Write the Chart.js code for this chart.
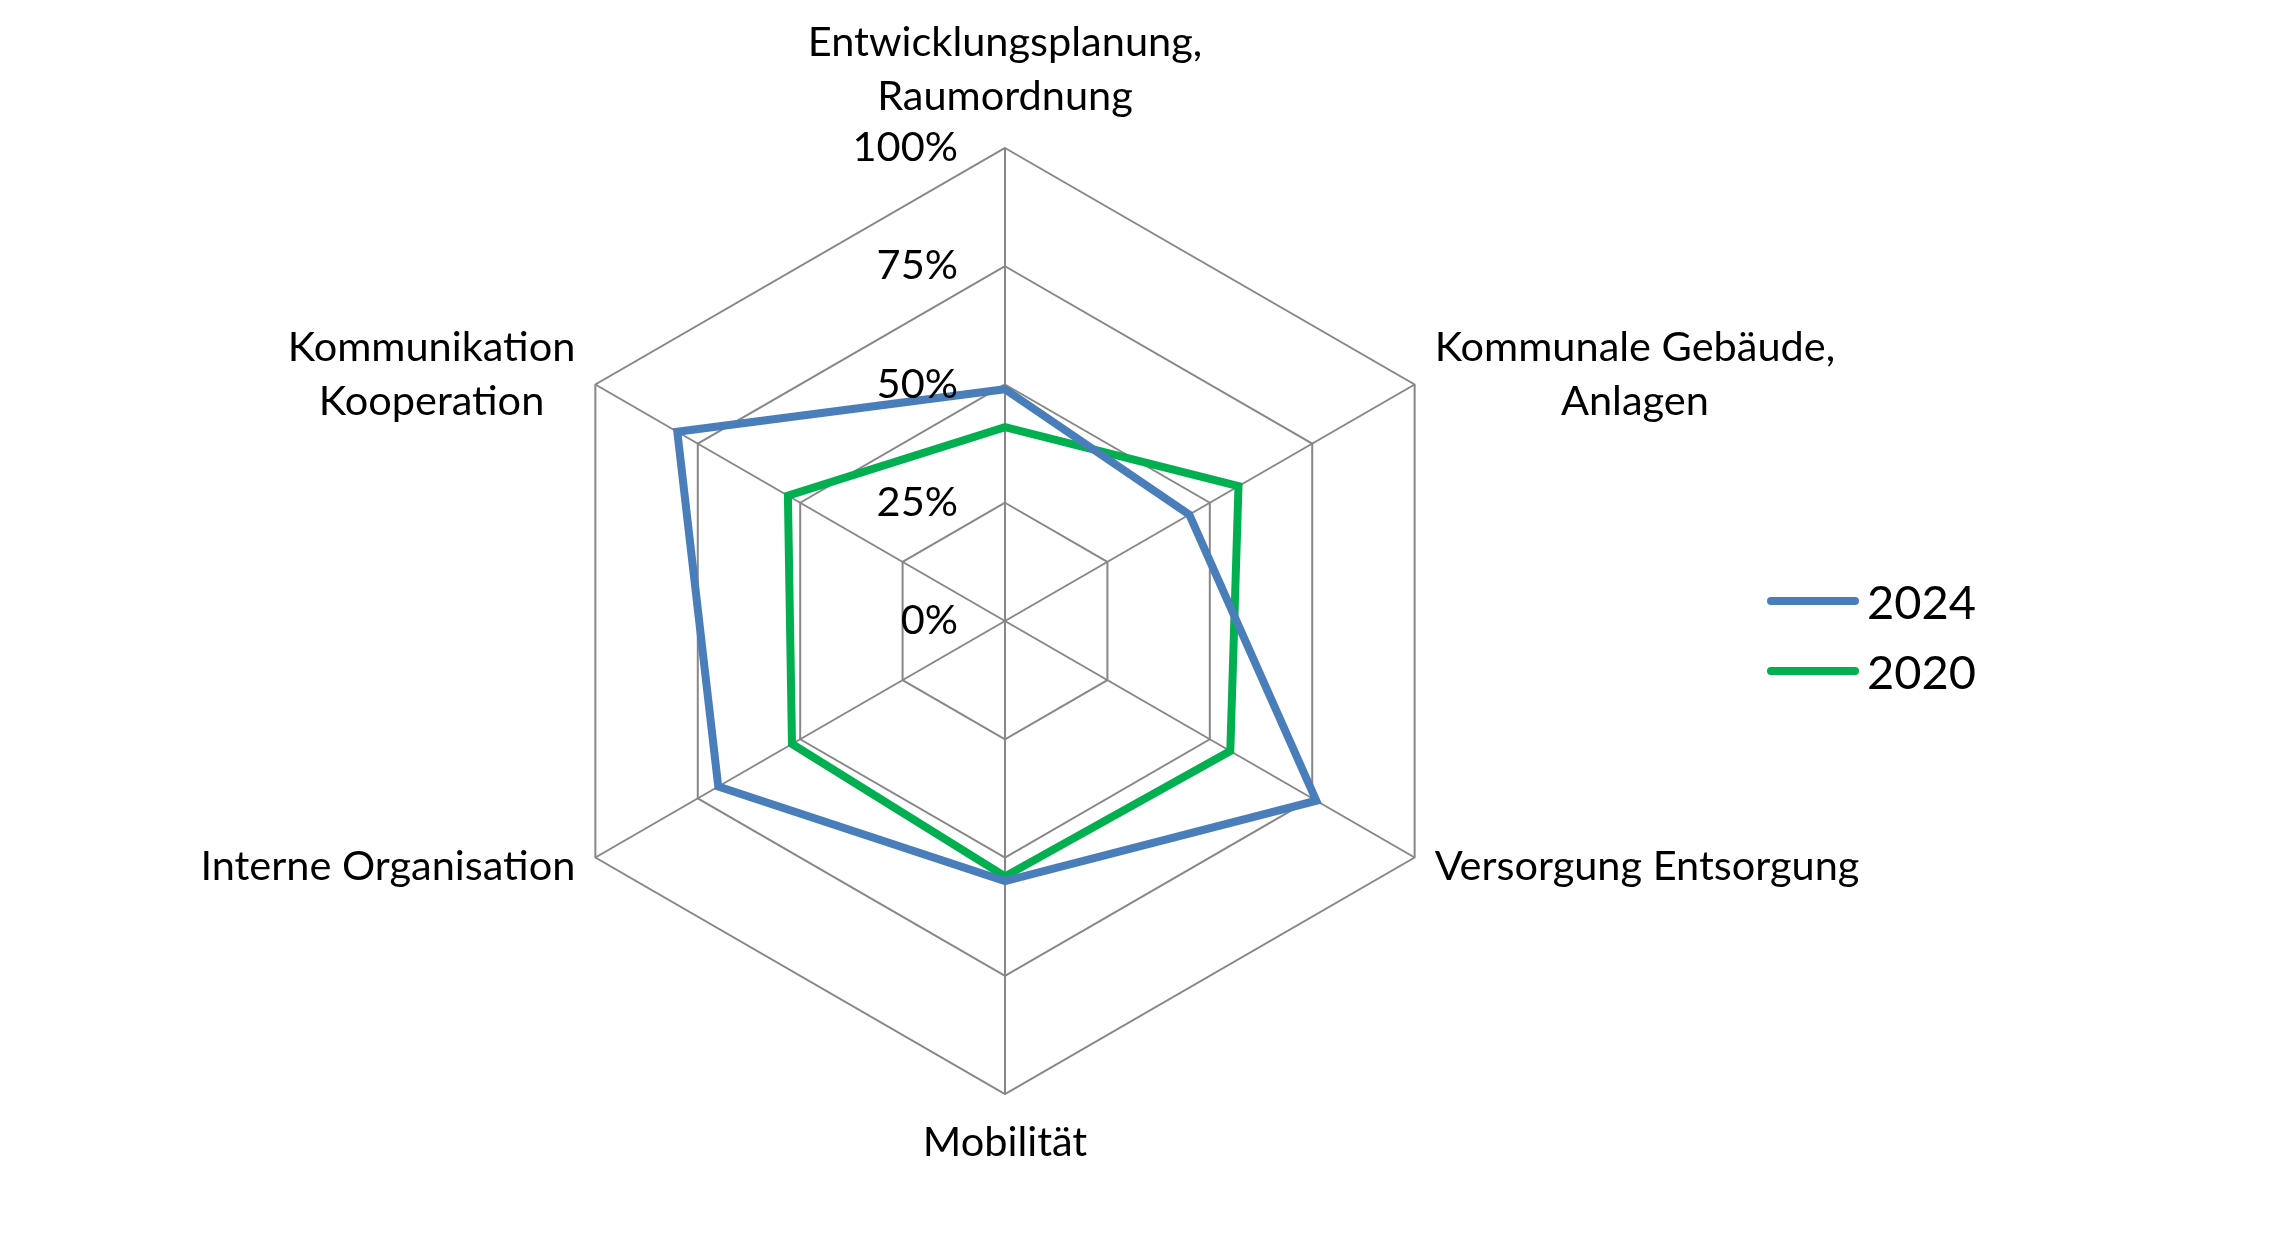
<!DOCTYPE html>
<html>
<head>
<meta charset="utf-8">
<script src="https://cdn.jsdelivr.net/npm/chart.js@4"></script>
<style>
  html, body { margin: 0; padding: 0; background: #fff; }
  #wrap { position: relative; width: 2280px; height: 1241px; }
  #legend { position: absolute; left: 1767px; top: 566px; font-family: Lato, sans-serif; font-size: 47px; color: #000; }
  #legend .item { display: flex; align-items: center; height: 70px; }
  #legend .swatch { width: 92px; height: 8px; border-radius: 4px; margin-right: 8px; }
</style>
</head>
<body>
<div id="wrap">
  <canvas id="chart" width="2280" height="1241"></canvas>
  <div id="legend"></div>
</div>
<script>
// axis categories (clockwise from top)
var categories = [
  ["Entwicklungsplanung,", "Raumordnung"],
  ["Kommunale Gebäude,", "Anlagen"],
  "Versorgung Entsorgung",
  "Mobilität",
  "Interne Organisation",
  ["Kommunikation", "Kooperation"]
];
var series2024 = [49, 45, 76, 55, 70, 80];
var series2020 = [41, 57, 55, 54, 52, 53];
var tickValues = [0, 25, 50, 75, 100];
var tickLabels = ["0%", "25%", "50%", "75%", "100%"];

var FONT = "41.5px Lato, sans-serif";

// draws tick labels left of the vertical axis and the point labels
var radarText = {
  id: "radarText",
  afterDatasetsDraw: function (chart) {
    var scale = chart.scales.r;
    var ctx = chart.ctx;
    ctx.save();
    ctx.font = FONT;
    ctx.fillStyle = "#000";
    ctx.textBaseline = "alphabetic";

    tickValues.forEach(function (v, i) {
      var y = scale.yCenter - scale.getDistanceFromCenterForValue(v);
      ctx.textAlign = "right";
      ctx.fillText(tickLabels[i], scale.xCenter - 47, y + 13);
    });

    var lineH = 54;
    categories.forEach(function (lab, i) {
      var lines = Array.isArray(lab) ? lab : [lab];
      var p = scale.getPointPosition(i, scale.drawingArea);
      var dx = p.x - scale.xCenter;
      var dy = p.y - scale.yCenter;
      var blockW = Math.max.apply(null, lines.map(function (s) { return ctx.measureText(s).width; }));
      var cx, firstBase;
      if (Math.abs(dx) < 1) {
        cx = p.x;
        if (dy < 0)
          firstBase = p.y - 38 - (lines.length - 1) * lineH;
        else
          firstBase = p.y + 62;
      } else {
        cx = dx > 0 ? p.x + 20 + blockW / 2 : p.x - 20 - blockW / 2;
        firstBase = dy < 0 ? p.y - 24 : p.y + 22;
      }
      ctx.textAlign = "center";
      lines.forEach(function (s, k) {
        ctx.fillText(s, cx, firstBase + k * lineH);
      });
    });
    ctx.restore();
  }
};

var datasets = [
  { label: "2024", data: series2024, borderColor: "#4a7ebb", backgroundColor: "#4a7ebb" },
  { label: "2020", data: series2020, borderColor: "#00b050", backgroundColor: "#00b050" }
];
datasets.forEach(function (d) {
  d.fill = false;
  d.borderWidth = 8;
  d.pointRadius = 0;
  d.pointHoverRadius = 0;
  d.borderJoinStyle = "miter";
});

new Chart(document.getElementById("chart"), {
  type: "radar",
  data: { labels: categories, datasets: datasets },
  options: {
    responsive: false,
    animation: false,
    layout: { padding: { top: 148, bottom: 147, left: 55, right: 325 } },
    plugins: { legend: { display: false }, tooltip: { enabled: false } },
    scales: {
      r: {
        min: 0,
        max: 100,
        ticks: { stepSize: 25, display: false },
        pointLabels: { display: false },
        grid: { color: "#878787", lineWidth: 2 },
        angleLines: { color: "#878787", lineWidth: 2 }
      }
    }
  },
  plugins: [radarText]
});

// legend
var legend = document.getElementById("legend");
datasets.forEach(function (d) {
  var item = document.createElement("div");
  item.className = "item";
  var sw = document.createElement("span");
  sw.className = "swatch";
  sw.style.background = d.borderColor;
  var txt = document.createElement("span");
  txt.textContent = d.label;
  item.appendChild(sw);
  item.appendChild(txt);
  legend.appendChild(item);
});
</script>
</body>
</html>
